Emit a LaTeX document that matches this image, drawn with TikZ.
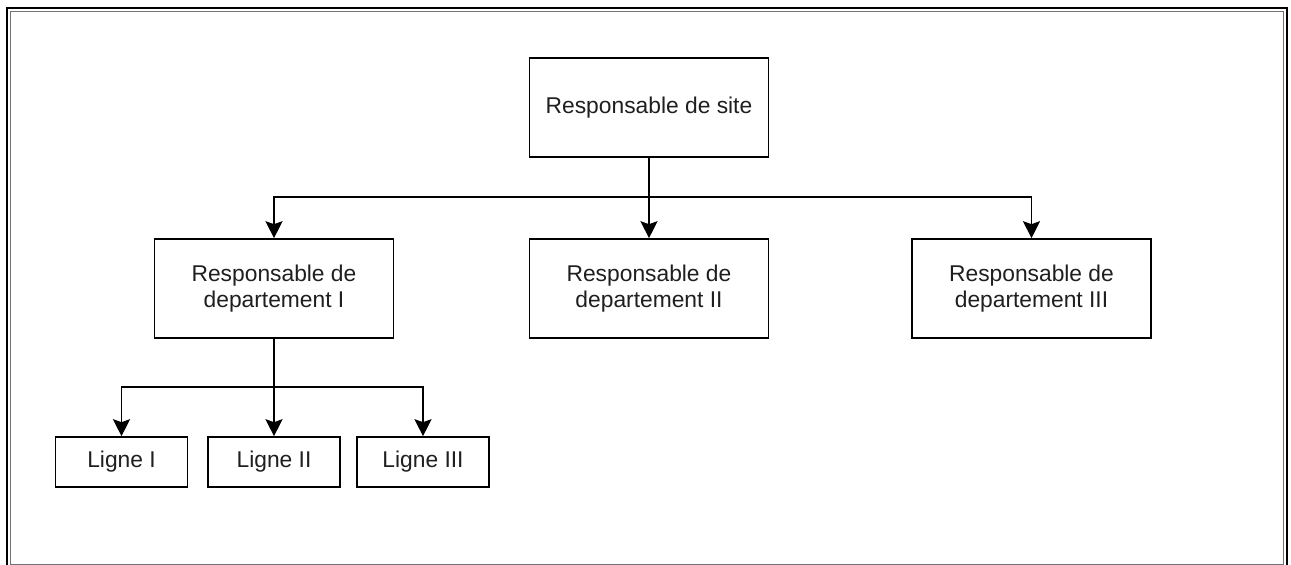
\documentclass[tikz,border=0pt]{standalone}
\usepackage{fontspec}
\setmainfont{Liberation Sans}
\usetikzlibrary{arrows.meta}
\begin{document}
\begin{tikzpicture}[x=1pt,y=-1pt,
  box/.style={draw=black,line width=1.6pt,fill=white,align=center,
    inner sep=0pt,font=\fontsize{22.8}{26}\selectfont,text=black!88},
  bigbox/.style={box,minimum width=239pt,minimum height=99pt},
  smallbox/.style={box,minimum width=132pt,minimum height=50pt},
  link/.style={draw=black,line width=1.6pt},
  arr/.style={link,-{Stealth[length=17pt,width=17pt,inset=3pt]}}]
  % canvas and clipping window
  \clip (0,0) rectangle (1291,565);
  \fill[white] (0,0) rectangle (1291,565);
  % double frame
  \draw[black,line width=2pt] (7,8) rectangle (1287,600);
  \draw[black!55,line width=1.4pt] (10.5,11.5) rectangle (1283.5,564.5);

  % nodes
  \node[bigbox] (site) at (649,107.5) {Responsable de site};
  \node[bigbox] (d1) at (274,288.5) {Responsable de\\departement I};
  \node[bigbox] (d2) at (649,288.5) {Responsable de\\departement II};
  \node[bigbox] (d3) at (1031.5,288.5) {Responsable de\\departement III};
  \node[smallbox] (l1) at (121.5,462) {Ligne I};
  \node[smallbox] (l2) at (274,462) {Ligne II};
  \node[smallbox] (l3) at (423,462) {Ligne III};

  % junction points of the connectors
  \coordinate (bus) at (649,197);
  \coordinate (bus2) at (274,387);

  % site to departments
  \draw[arr] (site.south) -- (d2.north);
  \draw[arr] (bus) -| (d1.north);
  \draw[arr] (bus) -| (d3.north);

  % department I to lines
  \draw[link] (d1.south) -- (bus2);
  \draw[arr] (bus2) -- (l2.north);
  \draw[arr] (bus2) -| (l1.north);
  \draw[arr] (bus2) -| (l3.north);
\end{tikzpicture}
\end{document}
